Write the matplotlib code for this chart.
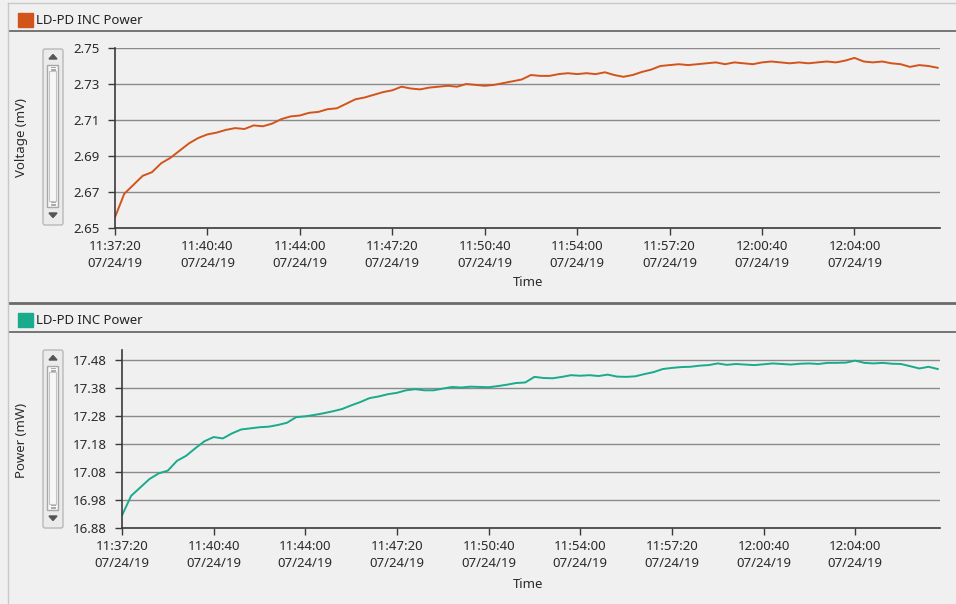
import numpy as np
import matplotlib
matplotlib.use('Agg')
import matplotlib.pyplot as plt
from matplotlib.patches import Rectangle, FancyBboxPatch, Polygon

plt.rcParams['font.family'] = ['Noto Sans', 'DejaVu Sans']

W, H = 956, 604

# seconds after 11:37:20, one reading every 20 s
seconds = np.arange(0, 1781, 20)

voltage = [
    2.656, 2.669, 2.674, 2.679, 2.681, 2.686, 2.689, 2.693, 2.697, 2.700,
    2.702, 2.703, 2.7045, 2.7055, 2.705, 2.707, 2.7065, 2.708, 2.7105, 2.712,
    2.7125, 2.714, 2.7145, 2.716, 2.7165, 2.719, 2.7215, 2.7225, 2.724, 2.7255,
    2.7265, 2.7285, 2.7275, 2.727, 2.728, 2.7285, 2.729, 2.7285, 2.730, 2.7295,
    2.729, 2.7295, 2.7305, 2.7315, 2.7325, 2.735, 2.7345, 2.7345, 2.7355, 2.736,
    2.7355, 2.736, 2.7355, 2.7365, 2.735, 2.734, 2.735, 2.7367, 2.738, 2.740,
    2.7405, 2.741, 2.7405, 2.741, 2.7415, 2.742, 2.741, 2.742, 2.7415, 2.741,
    2.742, 2.7425, 2.742, 2.7415, 2.742, 2.7415, 2.742, 2.7425, 2.742, 2.743,
    2.7445, 2.7425, 2.742, 2.7425, 2.7415, 2.741, 2.7395, 2.7405, 2.740, 2.739,
]

power = [
    16.925, 16.995, 17.025, 17.055, 17.075, 17.085, 17.120, 17.138, 17.165, 17.190,
    17.205, 17.200, 17.218, 17.232, 17.236, 17.240, 17.242, 17.248, 17.256, 17.276,
    17.279, 17.284, 17.290, 17.297, 17.305, 17.318, 17.330, 17.344, 17.350, 17.358,
    17.363, 17.372, 17.376, 17.372, 17.372, 17.378, 17.384, 17.382, 17.385, 17.384,
    17.383, 17.387, 17.392, 17.398, 17.400, 17.420, 17.416, 17.415, 17.420, 17.426,
    17.424, 17.426, 17.423, 17.428, 17.421, 17.420, 17.422, 17.430, 17.437, 17.448,
    17.452, 17.455, 17.456, 17.460, 17.462, 17.468, 17.463, 17.466, 17.464, 17.462,
    17.465, 17.468, 17.466, 17.464, 17.467, 17.468, 17.466, 17.470, 17.470, 17.471,
    17.478, 17.470, 17.468, 17.470, 17.467, 17.466, 17.458, 17.450, 17.456, 17.448,
]

tick_seconds = [0, 200, 400, 600, 800, 1000, 1200, 1400, 1600]
tick_times = ['11:37:20', '11:40:40', '11:44:00', '11:47:20', '11:50:40',
              '11:54:00', '11:57:20', '12:00:40', '12:04:00']
tick_date = '07/24/19'

voltage_ticks = [2.65, 2.67, 2.69, 2.71, 2.73, 2.75]
power_ticks = [16.88, 16.98, 17.08, 17.18, 17.28, 17.38, 17.48]

series_name = 'LD-PD INC Power'
orange = '#d3541b'
teal = '#1aaa8c'
bg = '#f0f0f0'

fig = plt.figure(figsize=(W / 100, H / 100), dpi=100, facecolor=bg)

# pixel overlay for the window chrome
ov = fig.add_axes([0, 0, 1, 1])
ov.set_xlim(0, W)
ov.set_ylim(H, 0)
ov.axis('off')
ov.patch.set_visible(False)

ov.plot([8, W], [3, 3], color='#c8c8c8', lw=1)
ov.plot([8, 8], [3, H], color='#c8c8c8', lw=1)
for yy, lw in [(31, 1.3), (303, 2), (332, 1.3)]:
    ov.plot([10, W], [yy, yy], color='#6a6a6a', lw=lw)


def header(y, color):
    ov.add_patch(Rectangle((18, y - 7), 15, 14, color=color))
    ov.text(36, y, series_name, fontsize=9.5, va='center', ha='left', color='#222222')


def scroller(top, bottom):
    ov.add_patch(FancyBboxPatch((43, top), 20, bottom - top, boxstyle='round,pad=0,rounding_size=2',
                                fc='#ebebeb', ec='#b8b8b8', lw=1))
    ov.add_patch(Polygon([(49, top + 10), (57, top + 10), (53, top + 5.5)], color='#555555'))
    ov.add_patch(Polygon([(49, bottom - 12), (57, bottom - 12), (53, bottom - 7.5)], color='#555555'))
    ov.add_patch(Rectangle((47.5, top + 16), 11, bottom - top - 34, fc='#f7f7f7', ec='#a8a8a8', lw=1))
    ov.add_patch(Rectangle((49.5, top + 22), 7, bottom - top - 46, fc='none', ec='#c4c4c4', lw=0.8))
    for gy in [top + 18, top + 19.5, top + 21, bottom - 23, bottom - 21.5, bottom - 20]:
        ov.plot([51, 55], [gy, gy], color='#9a9a9a', lw=0.6)


header(20, orange)
header(320, teal)
scroller(49, 225)
scroller(350, 528)


def panel(left, top, bottom, values, ylim, yticks, color, ylabel, label_y, time_y):
    ax = fig.add_axes([left / W, 1 - bottom / H, (940 - left) / W, (bottom - top) / H])
    ax.set_facecolor(bg)
    ax.plot(seconds, values, color=color, lw=1.4)
    ax.set_xlim(0, 1785)
    ax.set_ylim(*ylim)
    ax.set_yticks(yticks)
    ax.set_yticklabels(['%.2f' % v for v in yticks])
    ax.set_xticks(tick_seconds)
    ax.set_xticklabels(['%s\n%s' % (t, tick_date) for t in tick_times], linespacing=1.35)
    ax.grid(axis='y', color='#8a8a8a', lw=1)
    ax.set_axisbelow(True)
    for s in ['top', 'right']:
        ax.spines[s].set_visible(False)
    for s in ['left', 'bottom']:
        ax.spines[s].set_color('#3a3a3a')
        ax.spines[s].set_linewidth(1.2)
    ax.tick_params(direction='out', length=5, width=1, color='#3a3a3a',
                   labelsize=9.5, labelcolor='#2a2a2a')
    ax.tick_params(axis='y', pad=6)
    ax.tick_params(axis='x', pad=4)
    fig.text(22 / W, 1 - label_y / H, ylabel, rotation=90, fontsize=9.5,
             ha='center', va='center', color='#2a2a2a')
    fig.text(528 / W, 1 - time_y / H, 'Time', fontsize=9.5, ha='center', va='center', color='#2a2a2a')
    return ax


panel(115, 48, 228, voltage, (2.65, 2.75), voltage_ticks, orange, 'Voltage (mV)', 138, 283)
panel(122, 350, 528, power, (16.88, 17.516), power_ticks, teal, 'Power (mW)', 440, 585)

fig.savefig('out.png', dpi=100, facecolor=bg)
